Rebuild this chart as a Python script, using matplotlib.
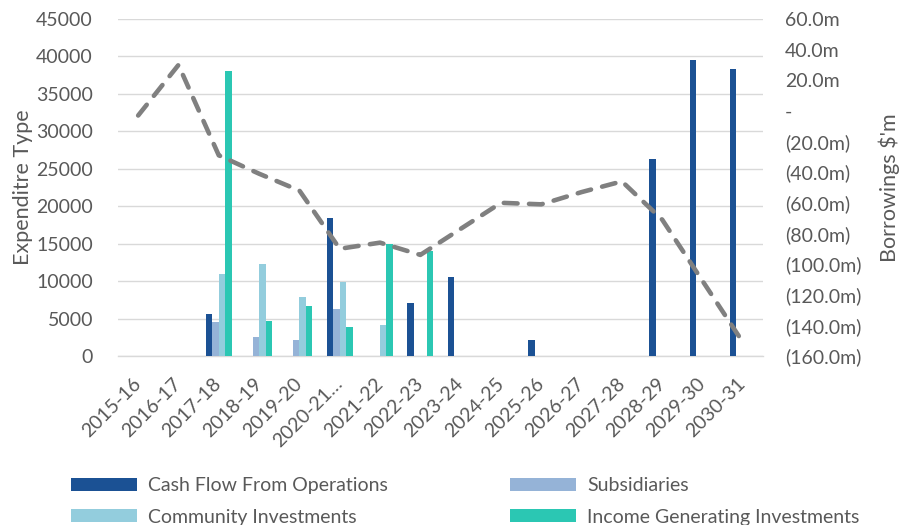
import matplotlib

matplotlib.use("Agg")
import matplotlib.pyplot as plt
import numpy as np

plt.rcParams["font.family"] = ["Lato", "DejaVu Sans"]

# Data
years = ["2015-16", "2016-17", "2017-18", "2018-19", "2019-20", "2020-21…",
         "2021-22", "2022-23", "2023-24", "2024-25", "2025-26", "2026-27",
         "2027-28", "2028-29", "2029-30", "2030-31"]
cash_flow = [0, 0, 5600, 0, 0, 18400, 0, 7100, 10500, 0, 2200, 0, 0, 26300, 39500, 38300]
subsidiaries = [0, 0, 4500, 2500, 2150, 6300, 0, 0, 0, 0, 0, 0, 0, 0, 0, 0]
community = [0, 0, 11000, 12250, 7900, 9900, 4150, 0, 0, 0, 0, 0, 0, 0, 0, 0]
income_gen = [0, 0, 38000, 4700, 6700, 3900, 14900, 14000, 0, 0, 0, 0, 0, 0, 0, 0]
borrowings = [-3, 30, -29, -41, -52, -90, -86, -94, -77, -60, -61, -53, -46, -71, -111, -151]

series = [
    ("Cash Flow From Operations", cash_flow, "#1B5194"),
    ("Subsidiaries", subsidiaries, "#95B3D7"),
    ("Community Investments", community, "#93CDDD"),
    ("Income Generating Investments", income_gen, "#2BC7B3"),
]

TXT = "#595959"
GRID = "#D9D9D9"
FS = 14

fig = plt.figure(figsize=(9.09, 5.25), dpi=100)
ax = fig.add_axes([118 / 909, 1 - 356 / 525, (763 - 118) / 909, (356 - 19) / 525])
ax2 = ax.twinx()

x = np.arange(len(years))
w = 0.16
bars = []
for i, (name, vals, col) in enumerate(series):
    bars.append(ax.bar(x + (i - 1.5) * w, vals, width=w, color=col, label=name, zorder=3))

ax.set_xlim(-0.5, len(years) - 0.5)
ax.set_ylim(0, 45000)
ax.set_yticks(np.arange(0, 45001, 5000))
ax.yaxis.grid(True, color=GRID, lw=1.0, zorder=0)
ax.set_axisbelow(True)
for s in ["top", "left", "right"]:
    ax.spines[s].set_visible(False)
ax.spines["bottom"].set_color(GRID)
ax.spines["bottom"].set_linewidth(1.0)
ax.tick_params(axis="both", length=0, colors=TXT, labelsize=FS)
ax.tick_params(axis="y", pad=18)
ax.tick_params(axis="x", pad=18)
ax.set_xticks(x)
ax.set_xticklabels(years, rotation=45, ha="right", va="center", rotation_mode="anchor")
ax.set_ylabel("Expenditre Type", color=TXT, fontsize=15.5, labelpad=2)

# Borrowings line on the secondary axis
ax2.plot(x, borrowings, color="#808080", lw=3.3, ls=(0, (3.0, 2.5)),
         dash_capstyle="round", solid_capstyle="round", zorder=4)
ax2.set_ylim(-160, 60)
ticks = np.arange(60, -161, -20)
ax2.set_yticks(ticks)


def fmt(v):
    if v == 0:
        return "-"
    if v < 0:
        return f"({abs(v):.1f}m)"
    return f"{v:.1f}m"


ax2.set_yticklabels([fmt(t) for t in ticks])
for s in ["top", "left", "right", "bottom"]:
    ax2.spines[s].set_visible(False)
ax2.tick_params(axis="y", length=0, colors=TXT, labelsize=FS, pad=16)
ax2.set_ylabel("Borrowings $'m", color=TXT, fontsize=15.5, labelpad=12)

# Excel fills the legend row by row; matplotlib fills column by column
order = [0, 2, 1, 3]
handles = [bars[k] for k in order]
labels = [series[k][0] for k in order]
fig.legend(handles, labels, ncol=2, loc="upper left",
           bbox_to_anchor=(71 / 909, 1 - 477 / 525), frameon=False,
           fontsize=FS, handlelength=3.4, handleheight=0.65,
           handletextpad=0.55, labelspacing=0.75, columnspacing=6.3,
           borderpad=0, borderaxespad=0, labelcolor=TXT)

fig.savefig("out.png", dpi=100)
